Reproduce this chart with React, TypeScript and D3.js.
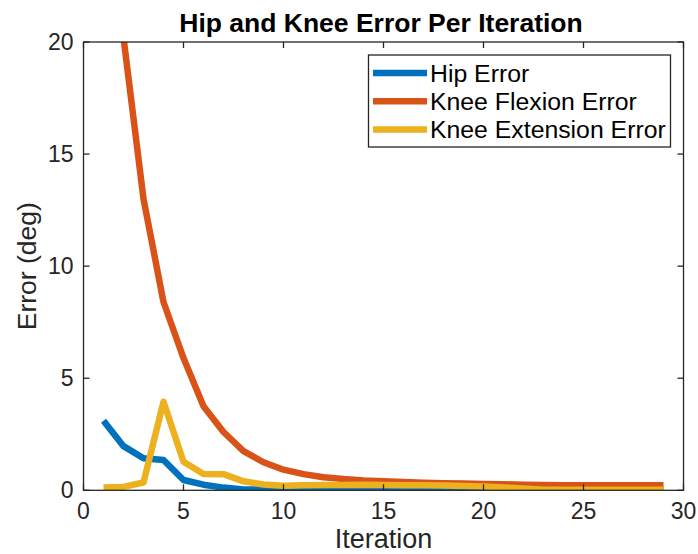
import React from "react";
import * as d3 from "d3";

const iterations = Array.from({ length: 29 }, (_, i) => i + 1);
const hipError = [3.1, 1.97, 1.43, 1.35, 0.46, 0.25, 0.12, 0.04, 0.03, 0.05, 0.04, 0.03, 0.03, 0.03, 0.03, 0.02, 0.02, 0.02, 0.01, 0.01, 0.01, 0.0, 0.0, 0.0, 0.0, 0.0, 0.0, 0.0, 0.0];
const kneeFlexionError = [45, 20.2, 13.0, 8.4, 5.9, 3.75, 2.6, 1.75, 1.25, 0.92, 0.72, 0.58, 0.5, 0.44, 0.4, 0.37, 0.34, 0.32, 0.3, 0.28, 0.27, 0.25, 0.24, 0.23, 0.23, 0.22, 0.22, 0.22, 0.22];
const kneeExtensionError = [0.12, 0.15, 0.35, 3.95, 1.27, 0.73, 0.72, 0.4, 0.26, 0.2, 0.22, 0.24, 0.24, 0.25, 0.24, 0.23, 0.22, 0.21, 0.19, 0.17, 0.13, 0.08, 0.03, 0.02, 0.02, 0.02, 0.02, 0.02, 0.02];
const seriesNames = ["Hip Error", "Knee Flexion Error", "Knee Extension Error"];
const seriesColors = ["#0072BD", "#D95319", "#EDB120"];
const xTicks = [0, 5, 10, 15, 20, 25, 30];
const yTicks = [0, 5, 10, 15, 20];

const W = 698, H = 554;
const L = 83.5, R = 683.5, T = 42, B = 490.3;
const axisColor = "#262626";
const font = "'Liberation Sans', Arial, Helvetica, sans-serif";

export default function App() {
  const x = d3.scaleLinear().domain([0, 30]).range([L, R]);
  const y = d3.scaleLinear().domain([0, 20]).range([B, T]);
  const line = d3.line<number>().x((_, i) => x(iterations[i])).y((d) => y(d));
  const series = [hipError, kneeFlexionError, kneeExtensionError];
  const tick = 6;
  return (
    <svg width={W} height={H} style={{ position: "absolute", left: 0, top: 0, background: "#fff" }} fontFamily={font}>
      <rect x={0} y={0} width={W} height={H} fill="#fff" />
      <defs>
        <clipPath id="plot">
          <rect x={L} y={T} width={R - L} height={B - T} />
        </clipPath>
      </defs>
      <rect x={L} y={T} width={R - L} height={B - T} fill="#fff" />
      <g clipPath="url(#plot)">
        {series.map((s, k) => (
          <path key={k} d={line(s) || ""} fill="none" stroke={seriesColors[k]} strokeWidth={6.5} strokeLinejoin="round" />
        ))}
      </g>
      <rect x={L} y={T} width={R - L} height={B - T} fill="none" stroke={axisColor} strokeWidth={1.3} />
      {xTicks.map((t) => (
        <g key={"x" + t}>
          <line x1={x(t)} x2={x(t)} y1={B} y2={B - tick} stroke={axisColor} strokeWidth={1.3} />
          <line x1={x(t)} x2={x(t)} y1={T} y2={T + tick} stroke={axisColor} strokeWidth={1.3} />
          <text x={x(t)} y={B + 29} textAnchor="middle" fontSize={23} fill={axisColor}>{t}</text>
        </g>
      ))}
      {yTicks.map((t) => (
        <g key={"y" + t}>
          <line x1={L} x2={L + tick} y1={y(t)} y2={y(t)} stroke={axisColor} strokeWidth={1.3} />
          <line x1={R} x2={R - tick} y1={y(t)} y2={y(t)} stroke={axisColor} strokeWidth={1.3} />
          <text x={L - 10} y={y(t) + 8} textAnchor="end" fontSize={23} fill={axisColor}>{t}</text>
        </g>
      ))}
      <text x={(L + R) / 2} y={548} textAnchor="middle" fontSize={27} fill={axisColor}>Iteration</text>
      <text transform={`translate(36, ${(T + B) / 2}) rotate(-90)`} textAnchor="middle" fontSize={26.5} fill={axisColor}>Error (deg)</text>
      <text x={381} y={32} textAnchor="middle" fontSize={26.5} fontWeight="bold" fill="#000">Hip and Knee Error Per Iteration</text>
      <g>
        <rect x={368.5} y={55} width={302} height={92} fill="#fff" stroke={axisColor} strokeWidth={1.3} />
        {seriesNames.map((n, k) => (
          <g key={n}>
            <line x1={373} x2={427} y1={73 + k * 28.2} y2={73 + k * 28.2} stroke={seriesColors[k]} strokeWidth={6.5} />
            <text x={430} y={73 + k * 28.2 + 8.5} fontSize={24.8} fill="#000">{n}</text>
          </g>
        ))}
      </g>
    </svg>
  );
}
